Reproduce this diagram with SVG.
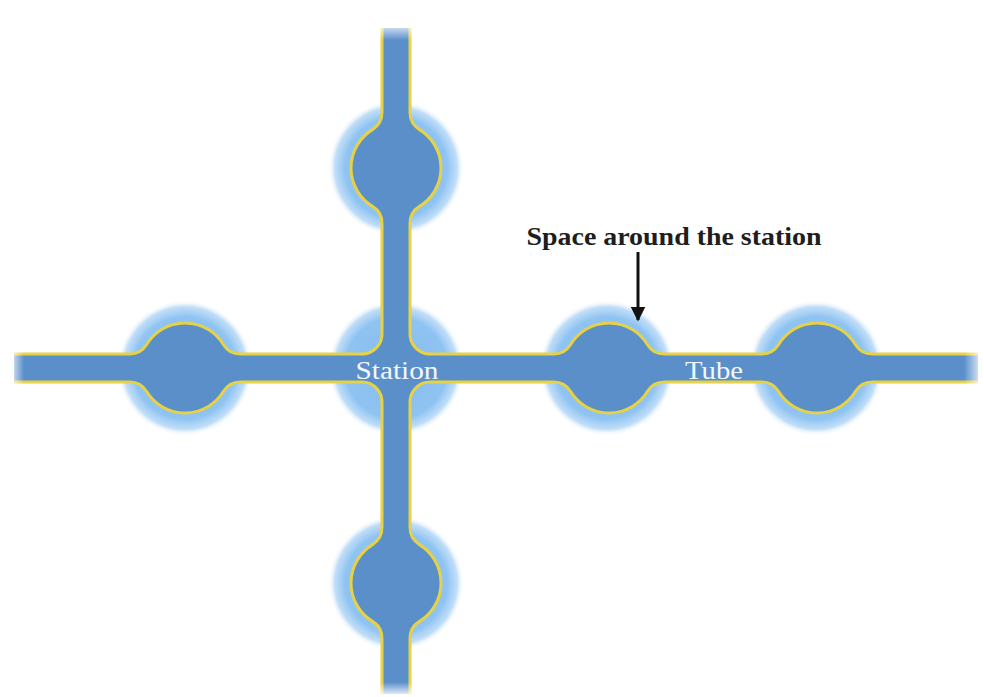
<svg xmlns="http://www.w3.org/2000/svg" width="984" height="697" viewBox="0 0 984 697">
  <defs>
    <radialGradient id="halo" cx="0.5" cy="0.5" r="0.5">
      <stop offset="0" stop-color="#84baee"/>
      <stop offset="0.75" stop-color="#8fc3f2"/>
      <stop offset="0.9" stop-color="#b0d5f6" stop-opacity="0.8"/>
      <stop offset="1" stop-color="#ffffff" stop-opacity="0"/>
    </radialGradient>
    <linearGradient id="fadeL" x1="0" y1="0" x2="1" y2="0">
      <stop offset="0" stop-color="#fff" stop-opacity="1"/>
      <stop offset="1" stop-color="#fff" stop-opacity="0"/>
    </linearGradient>
    <linearGradient id="fadeR" x1="1" y1="0" x2="0" y2="0">
      <stop offset="0" stop-color="#fff" stop-opacity="1"/>
      <stop offset="1" stop-color="#fff" stop-opacity="0"/>
    </linearGradient>
    <linearGradient id="fadeT" x1="0" y1="0" x2="0" y2="1">
      <stop offset="0" stop-color="#fff" stop-opacity="1"/>
      <stop offset="1" stop-color="#fff" stop-opacity="0"/>
    </linearGradient>
    <linearGradient id="fadeB" x1="0" y1="1" x2="0" y2="0">
      <stop offset="0" stop-color="#fff" stop-opacity="1"/>
      <stop offset="1" stop-color="#fff" stop-opacity="0"/>
    </linearGradient>
    <marker id="arrow" viewBox="0 0 10 10" refX="9" refY="5" markerWidth="5" markerHeight="6" markerUnits="strokeWidth" orient="auto">
      <path d="M0,0 L10,5 L0,10 Z" fill="#111"/>
    </marker>
  </defs>
  <style>
    .halo { fill: url(#halo); }
    .tube { fill: #5a8fca; stroke: none; }
    .edge { fill: none; stroke: #e6d244; stroke-width: 3; stroke-linejoin: round; }
    .lbl { font-family: "Liberation Serif", "Times New Roman", Tinos, serif; fill: #f4f8ff; font-size: 26px; }
    .note { font-family: "Liberation Serif", "Times New Roman", Tinos, serif; fill: #1e1e1e; font-size: 26px; font-weight: bold; }
  </style>
  <rect width="984" height="697" fill="#ffffff"/>

  <g id="halos">
    <circle class="halo" cx="185" cy="368" r="68"/>
    <circle class="halo" cx="396" cy="368" r="68"/>
    <circle class="halo" cx="607" cy="368" r="68"/>
    <circle class="halo" cx="816" cy="368" r="68"/>
    <circle class="halo" cx="396" cy="168" r="68"/>
    <circle class="halo" cx="396" cy="583" r="68"/>
  </g>

  <g id="connectors">
    <path id="tube" class="tube" d="M14 354 L129.6 354 A20 20 0 0 0 146.65 344.46 A45 45 0 0 1 223.35 344.46 A20 20 0 0 0 240.4 354 L362 354 A20 20 0 0 0 382 334 L382 223.4 A20 20 0 0 0 372.46 206.35 A45 45 0 0 1 372.46 129.65 A20 20 0 0 0 382 112.6 L382 28 L410 28 L410 112.6 A20 20 0 0 0 419.54 129.65 A45 45 0 0 1 419.54 206.35 A20 20 0 0 0 410 223.4 L410 334 A20 20 0 0 0 430 354 L553.6 354 A20 20 0 0 0 570.65 344.46 A45 45 0 0 1 647.35 344.46 A20 20 0 0 0 664.4 354 L761.6 354 A20 20 0 0 0 778.65 344.46 A45 45 0 0 1 855.35 344.46 A20 20 0 0 0 872.4 354 L978 354 L978 382 L872.4 382 A20 20 0 0 0 855.35 391.54 A45 45 0 0 1 778.65 391.54 A20 20 0 0 0 761.6 382 L664.4 382 A20 20 0 0 0 647.35 391.54 A45 45 0 0 1 570.65 391.54 A20 20 0 0 0 553.6 382 L430 382 A20 20 0 0 0 410 402 L410 527.6 A20 20 0 0 0 419.54 544.65 A45 45 0 0 1 419.54 621.35 A20 20 0 0 0 410 638.4 L410 694 L382 694 L382 638.4 A20 20 0 0 0 372.46 621.35 A45 45 0 0 1 372.46 544.65 A20 20 0 0 0 382 527.6 L382 402 A20 20 0 0 0 362 382 L240.4 382 A20 20 0 0 0 223.35 391.54 A45 45 0 0 1 146.65 391.54 A20 20 0 0 0 129.6 382 L14 382 Z"/>
    <path class="edge" d="M14 354 L129.6 354 A20 20 0 0 0 146.65 344.46 A45 45 0 0 1 223.35 344.46 A20 20 0 0 0 240.4 354 L362 354 A20 20 0 0 0 382 334 L382 223.4 A20 20 0 0 0 372.46 206.35 A45 45 0 0 1 372.46 129.65 A20 20 0 0 0 382 112.6 L382 28 M410 28 L410 112.6 A20 20 0 0 0 419.54 129.65 A45 45 0 0 1 419.54 206.35 A20 20 0 0 0 410 223.4 L410 334 A20 20 0 0 0 430 354 L553.6 354 A20 20 0 0 0 570.65 344.46 A45 45 0 0 1 647.35 344.46 A20 20 0 0 0 664.4 354 L761.6 354 A20 20 0 0 0 778.65 344.46 A45 45 0 0 1 855.35 344.46 A20 20 0 0 0 872.4 354 L978 354 M978 382 L872.4 382 A20 20 0 0 0 855.35 391.54 A45 45 0 0 1 778.65 391.54 A20 20 0 0 0 761.6 382 L664.4 382 A20 20 0 0 0 647.35 391.54 A45 45 0 0 1 570.65 391.54 A20 20 0 0 0 553.6 382 L430 382 A20 20 0 0 0 410 402 L410 527.6 A20 20 0 0 0 419.54 544.65 A45 45 0 0 1 419.54 621.35 A20 20 0 0 0 410 638.4 L410 694 M382 694 L382 638.4 A20 20 0 0 0 372.46 621.35 A45 45 0 0 1 372.46 544.65 A20 20 0 0 0 382 527.6 L382 402 A20 20 0 0 0 362 382 L240.4 382 A20 20 0 0 0 223.35 391.54 A45 45 0 0 1 146.65 391.54 A20 20 0 0 0 129.6 382 L14 382"/>
    <rect x="8" y="345" width="16" height="46" fill="url(#fadeL)"/>
    <rect x="964" y="345" width="20" height="46" fill="url(#fadeR)"/>
    <rect x="373" y="22" width="46" height="18" fill="url(#fadeT)"/>
    <rect x="373" y="682" width="46" height="15" fill="url(#fadeB)"/>
    <line x1="638" y1="252" x2="638" y2="320" stroke="#111" stroke-width="3" marker-end="url(#arrow)"/>
  </g>

  <g id="station-center">
    <text class="lbl" x="397" y="379" text-anchor="middle" textLength="83" lengthAdjust="spacingAndGlyphs">Station</text>
  </g>
  <g id="tube-label">
    <text class="lbl" x="714" y="379" text-anchor="middle" textLength="58" lengthAdjust="spacingAndGlyphs">Tube</text>
  </g>
  <g id="space-label">
    <text class="note" x="674" y="245" text-anchor="middle" textLength="295" lengthAdjust="spacingAndGlyphs">Space around the station</text>
  </g>
</svg>
